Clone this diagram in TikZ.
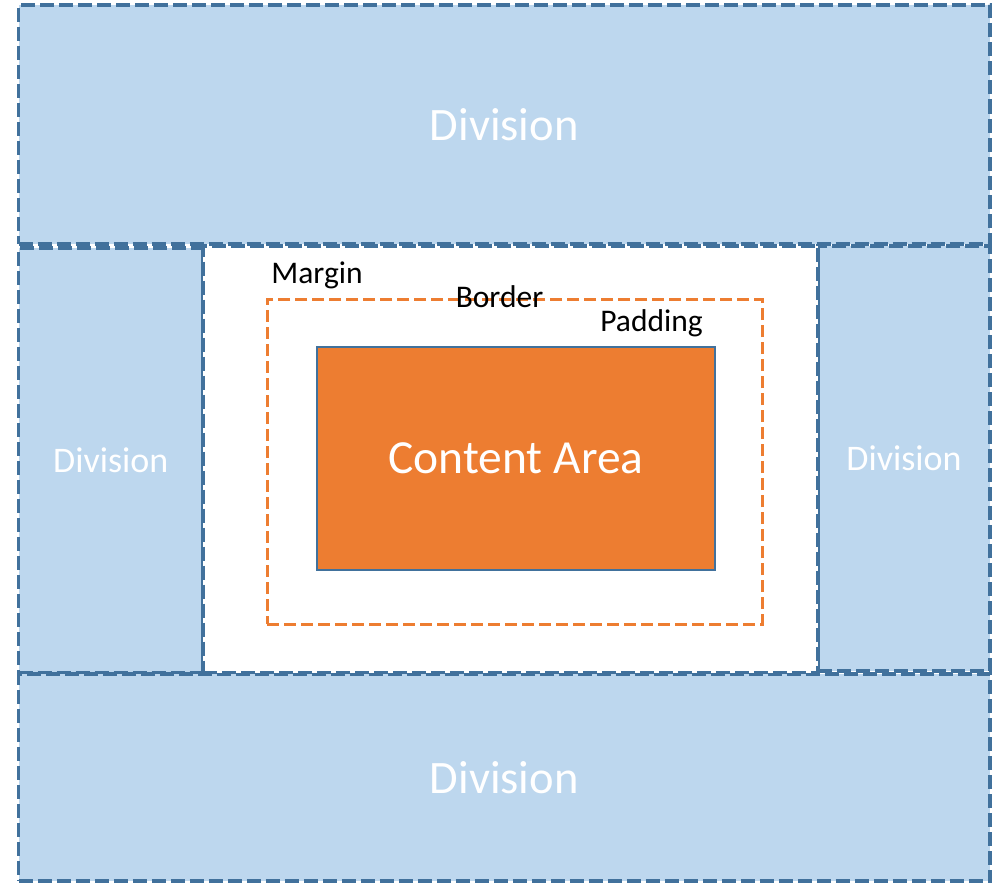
\documentclass[tikz,border=0pt]{standalone}
\usepackage{fontspec}
\setmainfont{Carlito}
\usepackage{xcolor}
\usepackage{tikz}
\usetikzlibrary{positioning}

\definecolor{divline}{HTML}{41719C}
\definecolor{divfill}{HTML}{BDD7EE}
\definecolor{boxorange}{HTML}{ED7D31}

\begin{document}
\begin{tikzpicture}[
    x=1pt, y=-1pt,
    division/.style={rectangle, draw=divline, fill=divfill, line width=3.8pt, dash pattern=on 14pt off 5pt, inner sep=0pt, text=white},
    marginbox/.style={rectangle, draw=divline, fill=white, line width=3.8pt, dash pattern=on 14pt off 5pt, inner sep=0pt},
    borderbox/.style={rectangle, draw=boxorange, line width=3pt, dash pattern=on 12pt off 5pt, inner sep=0pt},
    content/.style={rectangle, draw=divline, fill=boxorange, line width=1.5pt, inner sep=0pt, text=white, font=\fontsize{47.5}{54}\selectfont},
    tag/.style={anchor=base, inner sep=0pt, text=black, font=\fontsize{31.5}{36}\selectfont}
]
\useasboundingbox (0,0) rectangle (1002,883);

% Divisiones
\node[division, minimum width=971.5pt, minimum height=239pt, font=\fontsize{46.5}{52}\selectfont] (top) at (504.25,124.5) {Division};
\node[division, minimum width=184.5pt, minimum height=425pt, font=\fontsize{36}{42}\selectfont] (left) at (110.75,460.5) {Division};
\node[division, minimum width=172pt, minimum height=425pt, font=\fontsize{36}{42}\selectfont] (right) at (904,458.5) {Division};
\node[division, minimum width=971.5pt, minimum height=207pt, font=\fontsize{46.5}{52}\selectfont] (bottom) at (504.25,777.5) {Division};

% Caja central
\node[marginbox, minimum width=615pt, minimum height=426.5pt] (margin) at (510.5,459.25) {};
\node[borderbox, minimum width=495pt, minimum height=325pt] (border) at (514.5,461.5) {};
\node[content, minimum width=398pt, minimum height=223pt] (area) at (516,458.5) {Content Area};

% Etiquetas
\node[tag] (lmargin) at (317,283) {Margin};
\node[tag] (lborder) at (499.5,307) {Border};
\node[tag] (lpadding) at (651.5,331) {Padding};

\end{tikzpicture}
\end{document}
